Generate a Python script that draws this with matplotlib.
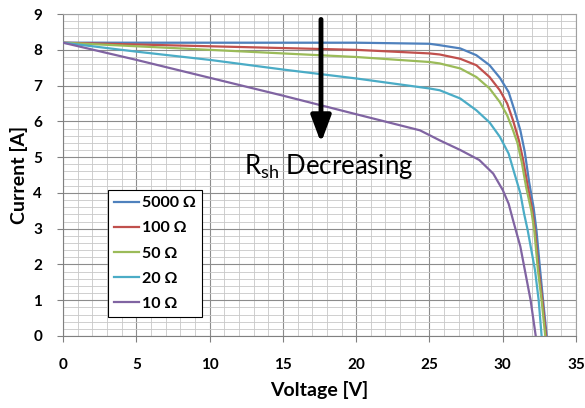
import matplotlib.pyplot as plt
from matplotlib.ticker import MultipleLocator

plt.rcParams['font.family'] = ['Lato', 'DejaVu Sans']

# I-V curves, one per shunt resistance
v_5000 = [0, 10, 20, 25, 25.7, 27.1, 28.2, 29.1, 29.8, 30.4, 30.8, 31.2, 31.5, 31.8, 32.1, 32.3, 32.55, 32.75, 33.0]
i_5000 = [8.2, 8.2, 8.2, 8.17, 8.13, 8.04, 7.85, 7.57, 7.22, 6.82, 6.31, 5.75, 5.15, 4.3, 3.6, 2.95, 1.84, 1.0, 0.0]

v_100 = [0, 5, 10, 15, 20, 25, 25.7, 27.1, 28.2, 29.1, 29.8, 30.3, 30.7, 31.1, 31.4, 31.7, 32.0, 32.2, 32.45, 32.7, 32.95]
i_100 = [8.2, 8.15, 8.1, 8.05, 8.0, 7.9, 7.87, 7.75, 7.57, 7.24, 6.87, 6.5, 6.03, 5.47, 4.9, 4.2, 3.55, 2.95, 1.84, 1.0, 0.0]

v_50 = [0, 5, 10, 15, 20, 25, 25.7, 27.1, 28.2, 29.1, 29.8, 30.3, 30.7, 31.0, 31.3, 31.6, 31.95, 32.15, 32.4, 32.65, 32.9]
i_50 = [8.2, 8.1, 8.0, 7.9, 7.8, 7.66, 7.62, 7.48, 7.24, 6.92, 6.54, 6.17, 5.75, 5.4, 4.85, 4.15, 3.5, 2.95, 1.84, 1.0, 0.0]

v_20 = [0, 5, 10, 15, 20, 25, 25.7, 27.1, 28.2, 29.1, 29.8, 30.4, 30.8, 31.2, 31.45, 31.7, 32.2, 32.45, 32.65]
i_20 = [8.2, 7.95, 7.72, 7.45, 7.2, 6.92, 6.87, 6.64, 6.31, 5.97, 5.57, 5.1, 4.54, 3.99, 3.43, 2.96, 1.84, 1.0, 0.0]

v_10 = [0, 5, 10, 15, 20, 24.35, 25.7, 27.1, 28.4, 29.35, 30.0, 30.4, 30.7, 31.2, 31.55, 31.9, 32.25]
i_10 = [8.2, 7.72, 7.22, 6.72, 6.2, 5.75, 5.47, 5.2, 4.92, 4.54, 4.08, 3.7, 3.24, 2.5, 1.75, 1.0, 0.0]

series = [
    (v_5000, i_5000, '5000 Ω', '#4F81BD'),
    (v_100, i_100, '100 Ω', '#C0504D'),
    (v_50, i_50, '50 Ω', '#9BBB59'),
    (v_20, i_20, '20 Ω', '#4BACC6'),
    (v_10, i_10, '10 Ω', '#8064A2'),
]

fig = plt.figure(figsize=(5.85, 4.08), dpi=100)
ax = fig.add_axes([0.1077, 0.1765, 0.877, 0.789])

for v, i, name, color in series:
    ax.plot(v, i, color=color, lw=1.6, label=name, zorder=3, solid_joinstyle='round')

ax.set_xlim(0, 35)
ax.set_ylim(0, 9)
ax.xaxis.set_major_locator(MultipleLocator(5))
ax.xaxis.set_minor_locator(MultipleLocator(1))
ax.yaxis.set_major_locator(MultipleLocator(1))
ax.yaxis.set_minor_locator(MultipleLocator(0.2))
ax.grid(which='major', color='#8c8c8c', lw=0.8)
ax.grid(which='minor', color='#c8c8c8', lw=0.6)
ax.set_axisbelow(True)

for side in ['top', 'right']:
    ax.spines[side].set_color('#a0a0a0')
for side in ['left', 'bottom']:
    ax.spines[side].set_color('#808080')
ax.tick_params(which='major', length=4, color='#808080', labelsize=11)
ax.tick_params(axis='x', pad=12)
ax.tick_params(axis='y', pad=11)
ax.tick_params(which='minor', length=0)
for lab in ax.get_xticklabels() + ax.get_yticklabels():
    lab.set_fontweight('bold')

ax.set_xlabel('Voltage [V]', fontsize=14, fontweight='bold', labelpad=6)
ax.set_ylabel('Current [A]', fontsize=14, fontweight='bold', labelpad=4)

leg = ax.legend(loc='lower left', bbox_to_anchor=(0.0877, 0.059), borderaxespad=0,
                fancybox=False, edgecolor='black', framealpha=1, handlelength=1.55,
                handletextpad=0.15, borderpad=0.4, labelspacing=0.68,
                prop={'weight': 'bold', 'size': 11.5})
leg.get_frame().set_linewidth(0.8)

ax.annotate('', xy=(17.6, 5.4), xytext=(17.6, 8.85),
            arrowprops=dict(arrowstyle='-|>,head_width=0.6,head_length=1.6',
                            color='black', lw=3.5, shrinkA=0, shrinkB=0), zorder=5)
ax.text(12.35, 4.75, r'R$_{\mathregular{sh}}$ Decreasing', fontsize=18.5, ha='left', va='center', zorder=5)

fig.savefig('out.png', dpi=100)
